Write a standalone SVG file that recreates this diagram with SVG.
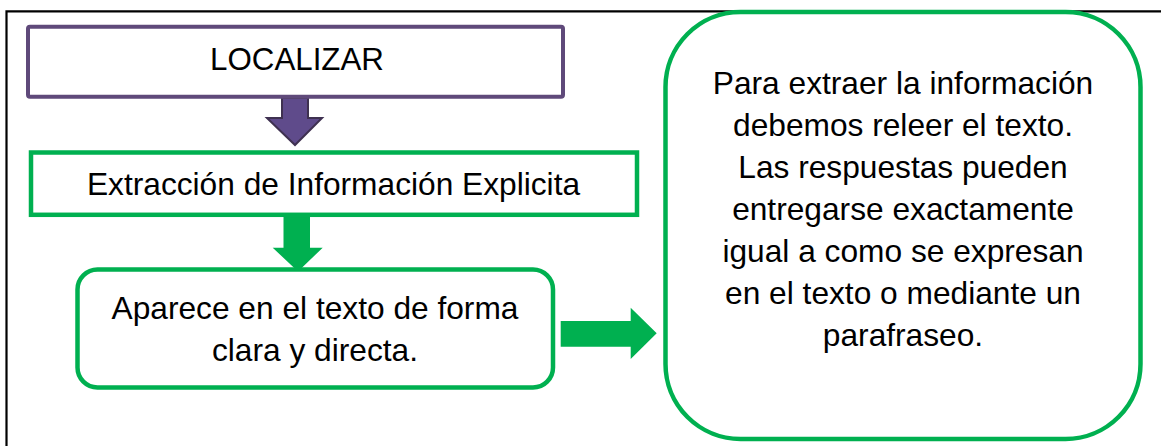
<svg xmlns="http://www.w3.org/2000/svg" width="1161" height="446" viewBox="0 0 1161 446">
<style>
text{font-family:"Liberation Sans",Arial,sans-serif;font-size:31.7px;fill:#000;text-anchor:middle}
.g{fill:#fff;stroke:#00B050;stroke-width:4.5}
.p{fill:#fff;stroke:#5F497A;stroke-width:4}
.ga{fill:#00B050;stroke:none}
.pa{fill:#5F4B8B;stroke:#3F3151;stroke-width:2;stroke-linejoin:miter}
</style>
<rect width="1161" height="446" fill="#fff"/>
<g id="frame" fill="none" stroke="#000" stroke-width="2.2">
<path d="M6.5 446V11.3H1161"/>
</g>
<g id="connectors">
<path class="pa" d="M282 98V118H267L295 145L322 118H308V98Z"/>
<path class="ga" d="M283.5 216V247.7H272.7L298 271.5L322.7 247.7H310V216Z"/>
<path class="ga" d="M560.7 321H630.7V307.7L656.7 333.3L630.7 359V346.7H560.7Z"/>
</g>
<g id="localizar">
<rect class="p" x="28" y="26.7" width="535" height="70" rx="2"/>
<text x="297" y="70" style="font-size:31.3px">LOCALIZAR</text>
</g>
<g id="extraccion">
<rect class="g" x="31" y="152.5" width="606" height="62.3"/>
<text x="333.5" y="195">Extracción de Información Explicita</text>
</g>
<g id="aparece">
<rect class="g" x="77.5" y="269.5" width="475.5" height="118" rx="20"/>
<text x="315" y="318.5">Aparece en el texto de forma</text>
<text x="315" y="360.5">clara y directa.</text>
</g>
<g id="explicacion">
<rect class="g" x="665.5" y="12" width="475" height="427" rx="75"/>
<text x="903" y="94">Para extraer la información</text>
<text x="903" y="136">debemos releer el texto.</text>
<text x="903" y="178">Las respuestas pueden</text>
<text x="903" y="220">entregarse exactamente</text>
<text x="903" y="262">igual a como se expresan</text>
<text x="903" y="304">en el texto o mediante un</text>
<text x="903" y="346">parafraseo.</text>
</g>
</svg>
